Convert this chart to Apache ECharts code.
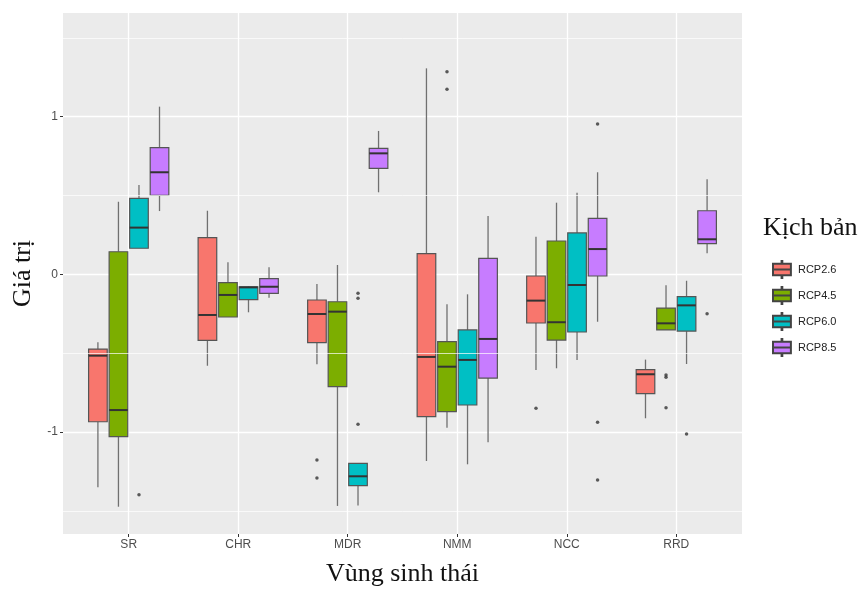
<!DOCTYPE html>
<html>
<head>
<meta charset="utf-8">
<script src="https://cdn.jsdelivr.net/npm/echarts@6/dist/echarts.min.js"></script>
<style>html,body{margin:0;padding:0;background:#fff}#c{width:859px;height:594px}</style>
</head>
<body>
<div id="c"></div>
<script>
const categories = ['SR', 'CHR', 'MDR', 'NMM', 'NCC', 'RRD'];
const scenarios = ['RCP2.6', 'RCP4.5', 'RCP6.0', 'RCP8.5'];
const yTickLabels = [-1, 0, 1];
const yMinorLines = [-1.5, -0.5, 0.5, 1.5];

// [lower whisker, Q1, median, Q3, upper whisker] per category
const rcp26 = [
  [-1.35, -0.935, -0.516, -0.474, -0.431],
  [-0.58, -0.419, -0.258, 0.232, 0.403],
  [-0.571, -0.434, -0.252, -0.163, -0.062],
  [-1.184, -0.903, -0.524, 0.131, 1.306],
  [-0.607, -0.309, -0.167, -0.011, 0.238],
  [-0.913, -0.757, -0.634, -0.605, -0.541]
];
const rcp45 = [
  [-1.474, -1.03, -0.861, 0.143, 0.46],
  [-0.271, -0.271, -0.131, -0.053, 0.076],
  [-1.469, -0.713, -0.237, -0.174, 0.059],
  [-0.973, -0.871, -0.586, -0.427, -0.19],
  [-0.596, -0.417, -0.304, 0.211, 0.454],
  [-0.353, -0.353, -0.311, -0.214, -0.07]
];
const rcp60 = [
  [0.165, 0.165, 0.296, 0.482, 0.566],
  [-0.241, -0.161, -0.083, -0.079, -0.075],
  [-1.467, -1.34, -1.281, -1.199, -1.199],
  [-1.205, -0.829, -0.543, -0.353, -0.127],
  [-0.543, -0.366, -0.068, 0.262, 0.517],
  [-0.569, -0.36, -0.197, -0.142, -0.041]
];
const rcp85 = [
  [0.401, 0.501, 0.647, 0.803, 1.063],
  [-0.148, -0.121, -0.079, -0.028, 0.044],
  [0.52, 0.672, 0.767, 0.799, 0.909],
  [-1.065, -0.658, -0.41, 0.101, 0.37],
  [-0.301, -0.011, 0.16, 0.355, 0.647],
  [0.133, 0.194, 0.222, 0.403, 0.602]
];
// outliers: [category index, value]
const out26 = [[2, -1.178], [2, -1.292], [4, -0.85]];
const out45 = [[3, 1.285], [3, 1.173], [5, -0.639], [5, -0.653], [5, -0.846]];
const out60 = [[0, -1.398], [2, -0.121], [2, -0.152], [2, -0.951], [5, -1.013]];
const out85 = [[4, 0.953], [4, -0.938], [4, -1.304], [5, -0.25]];

const boxStats = [rcp26, rcp45, rcp60, rcp85];
const outliers = [out26, out45, out60, out85];
const colors = ['#F8766D', '#7CAE00', '#00BFC4', '#C77CFF'];
const dodge = 0.1875;
const offsets = [-1.5, -0.5, 0.5, 1.5].map(k => k * dodge);
const boxWidth = 0.17;

function makeRender(k) {
  return function (params, api) {
    const xc = api.value(0) + offsets[k];
    const hw = api.size([boxWidth, 0])[0] / 2;
    const p = v => api.coord([xc, v]);
    const pmin = p(api.value(1)), pq1 = p(api.value(2)), pmed = p(api.value(3)),
          pq3 = p(api.value(4)), pmax = p(api.value(5));
    const wStyle = { stroke: '#707070', lineWidth: 1.3 };
    return {
      type: 'group',
      children: [
        { type: 'line', shape: { x1: pmax[0], y1: pmax[1], x2: pq3[0], y2: pq3[1] }, style: wStyle },
        { type: 'line', shape: { x1: pq1[0], y1: pq1[1], x2: pmin[0], y2: pmin[1] }, style: wStyle },
        { type: 'rect', shape: { x: pq3[0] - hw, y: pq3[1], width: 2 * hw, height: pq1[1] - pq3[1] },
          style: { fill: colors[k], stroke: '#555555', lineWidth: 1.2 } },
        { type: 'line', shape: { x1: pmed[0] - hw, y1: pmed[1], x2: pmed[0] + hw, y2: pmed[1] },
          style: { stroke: '#333333', lineWidth: 2 } }
      ]
    };
  };
}

const series = [];
series.push({
  type: 'line', data: [], z: 1, silent: true,
  markLine: {
    silent: true, symbol: 'none', label: { show: false },
    lineStyle: { color: '#ffffff', width: 0.7, type: 'solid' },
    data: yMinorLines.map(v => ({ yAxis: v }))
  }
});
scenarios.forEach((name, k) => {
  series.push({
    name: name,
    type: 'custom',
    renderItem: makeRender(k),
    itemStyle: { color: colors[k], borderColor: '#444', borderWidth: 1 },
    encode: { x: 0, y: [1, 2, 3, 4, 5] },
    data: boxStats[k].map((s, i) => [i + 1].concat(s)),
    z: 3
  });
  series.push({
    name: name,
    type: 'scatter',
    symbol: 'circle',
    symbolSize: 3.5,
    itemStyle: { color: '#333333' },
    data: outliers[k].map(o => [o[0] + 1 + offsets[k], o[1]]),
    z: 4
  });
});

const legendIcon = 'path://M9.6,0H10.4V3H9.6Z M0,3H20V9.5H0Z M0,9.5H20V16H0Z M9.6,16H10.4V19H9.6Z';

const chart = echarts.init(document.getElementById('c'), null, { renderer: 'canvas' });
chart.setOption({
  backgroundColor: '#ffffff',
  animation: false,
  title: {
    text: 'Kịch bản', left: 758, top: 210,
    textStyle: { fontFamily: 'Liberation Serif', fontSize: 26, fontWeight: 'normal', color: '#111' }
  },
  legend: {
    orient: 'vertical', left: 767, top: 255,
    itemWidth: 22, itemHeight: 17, itemGap: 7,
    data: scenarios.map(n => ({ name: n, icon: legendIcon })),
    textStyle: { fontFamily: 'Liberation Sans', fontSize: 11, color: '#222' }
  },
  grid: {
    left: 63, right: 117, top: 13, bottom: 60,
    show: true, backgroundColor: '#EBEBEB', borderWidth: 0
  },
  xAxis: {
    type: 'value', min: 0.4, max: 6.6,
    name: 'Vùng sinh thái', nameLocation: 'middle', nameGap: 27,
    nameTextStyle: { fontFamily: 'Liberation Serif', fontSize: 26, color: '#111' },
    axisLine: { show: false, onZero: false },
    axisTick: { show: true, length: 3, lineStyle: { color: '#333' }, customValues: [1, 2, 3, 4, 5, 6] },
    axisLabel: {
      customValues: [1, 2, 3, 4, 5, 6], margin: 5,
      formatter: v => categories[Math.round(v) - 1],
      fontFamily: 'Liberation Sans', fontSize: 12, color: '#4D4D4D'
    },
    splitLine: { show: true, lineStyle: { color: '#ffffff', width: 1.3 } }
  },
  yAxis: {
    type: 'value', min: -1.647, max: 1.657,
    name: 'Giá trị', nameLocation: 'middle', nameGap: 25, nameRotate: 90,
    nameTextStyle: { fontFamily: 'Liberation Serif', fontSize: 26, color: '#111' },
    axisLine: { show: false, onZero: false },
    axisTick: { show: true, length: 3, lineStyle: { color: '#333' }, customValues: yTickLabels },
    axisLabel: { customValues: yTickLabels, margin: 5, fontFamily: 'Liberation Sans', fontSize: 12, color: '#4D4D4D' },
    splitLine: { show: true, lineStyle: { color: '#ffffff', width: 1.3 } }
  },
  series: series
});
</script>
</body>
</html>
